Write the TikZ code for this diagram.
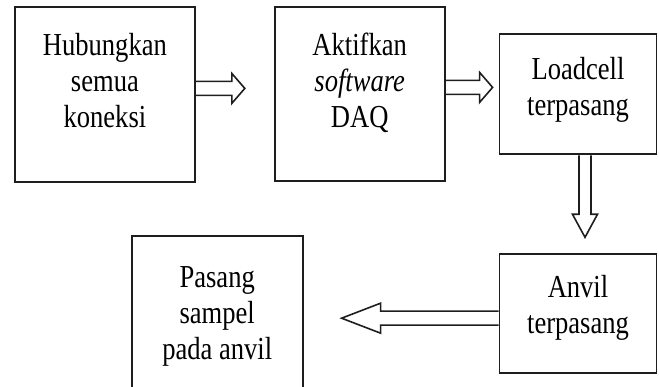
\documentclass[tikz,border=0pt]{standalone}
\usepackage{fontspec}
\setmainfont[FakeStretch=0.83]{Liberation Serif}
\usepackage{tikz}
\usetikzlibrary{positioning, calc}
\definecolor{linegray}{RGB}{30,30,30}
\tikzset{
  stepbox/.style={rectangle, draw=linegray, line width=1.8pt, fill=white,
                  align=center, inner sep=2pt,
                  font=\fontsize{32}{36}\selectfont},
  blockline/.style={draw=linegray, line width=1.6pt, line join=miter},
}
% hollow block arrow: start, tip, shaft half width, head half width, head length
\newcommand{\blockarrow}[5]{%
  \coordinate (ba-b) at ($(#2)!#5!(#1)$);
  \draw[blockline] ($(#1)!#3!-90:(#2)$) -- ($(ba-b)!#3!90:(#1)$)
    -- ($(ba-b)!#4!90:(#1)$) -- (#2) -- ($(ba-b)!#4!-90:(#1)$)
    -- ($(ba-b)!#3!-90:(#1)$) -- ($(#1)!#3!90:(#2)$);
}

\begin{document}
\begin{tikzpicture}[x=1pt, y=1pt]
  \useasboundingbox (0,0) rectangle (659,-387);

  % Top row
  \node[stepbox, anchor=north west, minimum width=180pt, minimum height=175pt,
        text depth=28pt] (hub) at (14,-6) {Hubungkan\\semua\\koneksi};
  \node[stepbox, right=78pt of hub, minimum width=170pt, minimum height=174pt,
        text depth=29pt] (aktif) {Aktifkan\\\textit{software}\\DAQ};
  \node[stepbox, right=53pt of aktif, minimum width=157pt, minimum height=120pt,
        text depth=16pt] (loadcell) {Loadcell\\terpasang};

  % Bottom row
  \node[stepbox, below=98pt of loadcell, minimum width=157pt, minimum height=119pt,
        text depth=18pt] (anvil) {Anvil\\terpasang};
  \node[stepbox, left=195pt of anvil, minimum width=171pt, minimum height=155pt,
        text depth=2pt] (pasang) {Pasang\\sampel\\pada anvil};

  % Arrows
  \coordinate (a1s) at ($(hub.east)+(0,6)$);
  \coordinate (a1t) at ($(a1s)+(49,0)$);
  \coordinate (a2s) at ($(aktif.east)+(0,7)$);
  \coordinate (a2t) at ($(a2s)+(47,0)$);
  \coordinate (a3s) at ($(loadcell.south)+(7,0)$);
  \coordinate (a3t) at ($(a3s)+(0,-82)$);
  \coordinate (a4s) at ($(anvil.west)+(0,-4.5)$);
  \coordinate (a4t) at ($(a4s)+(-157,0)$);

  \blockarrow{a1s}{a1t}{7pt}{15pt}{13pt}
  \blockarrow{a2s}{a2t}{7pt}{15pt}{13pt}
  \blockarrow{a3s}{a3t}{6pt}{12.5pt}{23pt}
  \blockarrow{a4s}{a4t}{7pt}{15pt}{39pt}
\end{tikzpicture}
\end{document}
